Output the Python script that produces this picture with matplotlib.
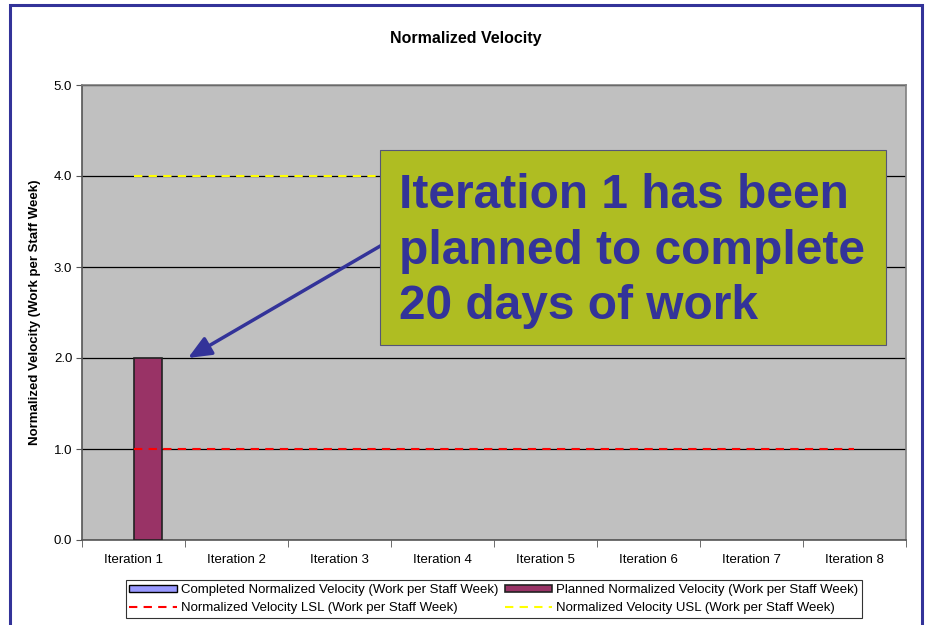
import numpy as np
import matplotlib.pyplot as plt
from matplotlib.patches import Rectangle

plt.rcParams['font.family'] = ['Liberation Sans', 'DejaVu Sans']

# data
iterations = ['Iteration 1', 'Iteration 2', 'Iteration 3', 'Iteration 4',
              'Iteration 5', 'Iteration 6', 'Iteration 7', 'Iteration 8']
completed = [np.nan] * 8
planned = [2.0, np.nan, np.nan, np.nan, np.nan, np.nan, np.nan, np.nan]
lsl = [1.0, 1.0, 1.0, 1.0, 1.0, 1.0, 1.0, 1.0]
usl = [4.0, 4.0, 4.0, 4.0, 4.0, 4.0, 4.0, 4.0]
yticks = [0.0, 1.0, 2.0, 3.0, 4.0, 5.0]

callout = 'Iteration 1 has been\nplanned to complete\n20 days of work'

W, H = 927, 625
fig = plt.figure(figsize=(W / 100, H / 100), dpi=100)
ax = fig.add_axes([82 / W, 1 - 540 / H, (906 - 82) / W, (540 - 85) / H])
ax.set_facecolor('#C0C0C0')

x = np.arange(len(iterations))
bw = 0.28
b1 = ax.bar(x - bw / 2, completed, bw, color='#9999FF', edgecolor='black', lw=1, zorder=3,
            label='Completed Normalized Velocity (Work per Staff Week)')
b2 = ax.bar(x + bw / 2, planned, bw, color='#993366', edgecolor='#222222', lw=1.2, zorder=3,
            label='Planned Normalized Velocity (Work per Staff Week)')
l1, = ax.plot(x, lsl, color='red', ls=(0, (4, 3)), lw=1.5, zorder=4,
              label='Normalized Velocity LSL (Work per Staff Week)')
l2, = ax.plot(x, usl, color='#FFFF00', ls=(0, (4, 3)), lw=1.5, zorder=4,
              label='Normalized Velocity USL (Work per Staff Week)')

ax.set_xlim(-0.5, len(iterations) - 0.5)
ax.set_ylim(0, 5)
ax.set_yticks(yticks)
ax.set_yticklabels([f'{v:.1f}' for v in yticks], fontsize=9.5)
ax.yaxis.grid(True, color='black', lw=0.9, zorder=1)
ax.set_xticks(x)
ax.set_xticklabels(iterations, fontsize=9.5)
ax.set_xticks(np.arange(-0.5, len(iterations)), minor=True)
ax.tick_params(axis='x', which='major', length=0, pad=10)
ax.tick_params(axis='x', which='minor', length=5, color='#555555')
ax.tick_params(axis='y', length=4, color='#555555', pad=3)
for s in ['top', 'right']:
    ax.spines[s].set_color('#808080')
for s in ['left', 'bottom']:
    ax.spines[s].set_color('#555555')
for s in ax.spines.values():
    s.set_linewidth(1.2)

ax.set_ylabel('Normalized Velocity (Work per Staff Week)', fontsize=9.5, fontweight='bold', labelpad=9)
fig.text(466 / W, 1 - 38 / H, 'Normalized Velocity', ha='center', va='center',
         fontsize=11.5, fontweight='bold')

# callout box + arrow
box = Rectangle((380 / W, 1 - 345 / H), (886 - 380) / W, (345 - 150) / H,
                transform=fig.transFigure, facecolor='#AFBD22', edgecolor='#555577',
                lw=0.8, zorder=10)
fig.add_artist(box)
fig.text(399 / W, 1 - 251 / H, callout, ha='left', va='center', fontsize=34.5,
         fontweight='bold', color='#333399', linespacing=1.31, zorder=11)
ax.annotate('', xy=(188 / W, 1 - 358 / H), xycoords='figure fraction',
            xytext=(382 / W, 1 - 245 / H), textcoords='figure fraction',
            arrowprops=dict(arrowstyle='-|>,head_length=1.4,head_width=0.6',
                            color='#333399', lw=2.5, shrinkA=0, shrinkB=0), zorder=9)

leg = fig.legend([b1, l1, b2, l2],
                 [b1.get_label(), l1.get_label(), b2.get_label(), l2.get_label()],
                 ncol=2, loc='center', bbox_to_anchor=(494 / W, 1 - 599 / H),
                 fontsize=9.5, frameon=True, fancybox=False, edgecolor='black',
                 handlelength=3.6, handleheight=0.45, columnspacing=0.5,
                 handletextpad=0.3, borderpad=0.3, labelspacing=0.45, borderaxespad=0)
leg.get_frame().set_linewidth(0.8)

# outer slide border
fig.add_artist(Rectangle((10 / W, -0.02), (922 - 10) / W, 1 - 5 / H + 0.02,
                         transform=fig.transFigure, fill=False, edgecolor='#333399', lw=2.2))

fig.savefig('out.png', dpi=100)
